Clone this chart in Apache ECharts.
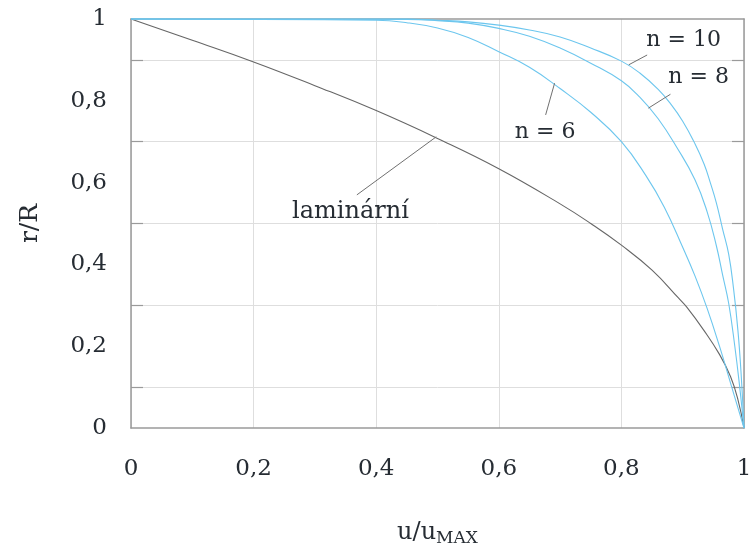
<!DOCTYPE html>
<html>
<head>
<meta charset="utf-8">
<script src="https://cdn.jsdelivr.net/npm/echarts@6/dist/echarts.min.js"></script>
<style>
html,body{margin:0;padding:0;background:#fff;}
#chart{width:752px;height:549px;}
</style>
</head>
<body>
<div id="chart"></div>
<script>
// ---- data (u/uMAX , r/R) ----
const xTicks = [0, 0.2, 0.4, 0.6, 0.8, 1];
const yTicks = [0, 0.2, 0.4, 0.6, 0.8, 1];
const yMinorTicks = [0.1, 0.3, 0.5, 0.7, 0.9];

const lamU = [0, 0.1, 0.2, 0.3, 0.4, 0.5, 0.6, 0.7, 0.75, 0.8, 0.85, 0.893, 0.907, 0.934, 0.96, 0.978, 0.99, 1];
const lamR = [1, 0.948, 0.895, 0.837, 0.776, 0.708, 0.634, 0.548, 0.5, 0.447, 0.386, 0.318, 0.295, 0.24, 0.18, 0.126, 0.07, 0];

const n6U = [0, 0.40, 0.45, 0.50, 0.55, 0.60, 0.65, 0.70, 0.75, 0.80, 0.84, 0.87, 0.90, 0.92, 0.94, 0.96, 0.98, 1];
const n6R = [1, 0.997, 0.991, 0.978, 0.955, 0.920, 0.882, 0.830, 0.772, 0.700, 0.617, 0.540, 0.442, 0.372, 0.292, 0.200, 0.100, 0];

const n8U = [0, 0.45, 0.50, 0.55, 0.60, 0.65, 0.70, 0.75, 0.80, 0.83, 0.86, 0.89, 0.92, 0.94, 0.955, 0.965, 0.975, 0.985, 0.993, 1];
const n8R = [1, 0.999, 0.996, 0.990, 0.977, 0.958, 0.929, 0.892, 0.849, 0.809, 0.756, 0.687, 0.607, 0.528, 0.445, 0.375, 0.305, 0.200, 0.100, 0];

const n10U = [0, 0.45, 0.50, 0.55, 0.60, 0.65, 0.70, 0.75, 0.80, 0.83, 0.86, 0.88, 0.90, 0.92, 0.935, 0.945, 0.955, 0.965, 0.975, 0.983, 0.99, 0.995, 1];
const n10R = [1, 1, 0.997, 0.993, 0.985, 0.973, 0.956, 0.929, 0.897, 0.868, 0.828, 0.793, 0.750, 0.695, 0.645, 0.600, 0.550, 0.487, 0.425, 0.340, 0.240, 0.140, 0];

const seriesNames = ['laminární', 'n = 6', 'n = 8', 'n = 10'];

// ---- annotation placement (data coordinates) ----
const notes = [
  { text: 'laminární', size: 24, at: [0.358, 0.528], from: [0.498, 0.712], to: [0.3685, 0.570] },
  { text: 'n = 6',     size: 22, at: [0.6755, 0.724], from: [0.691, 0.843], to: [0.6764, 0.7655] },
  { text: 'n = 8',     size: 22, at: [0.926, 0.858], from: [0.844, 0.782], to: [0.880, 0.816] },
  { text: 'n = 10',    size: 22, at: [0.9015, 0.9487], from: [0.812, 0.888], to: [0.842, 0.912] }
];

const zip = (a, b) => a.map((v, i) => [v, b[i]]);
const FONT = 'DejaVu Serif';
const TXT = '#262c33';
const AX = '#9a9a9a';
const fmt = v => String(+v.toFixed(1)).replace('.', ',');

const dataSets = [zip(lamU, lamR), zip(n6U, n6R), zip(n8U, n8R), zip(n10U, n10R)];
const colors = ['#666666', '#6cc6ee', '#6cc6ee', '#6cc6ee'];

const series = dataSets.map((d, i) => ({
  name: seriesNames[i],
  type: 'line',
  xAxisIndex: 0,
  yAxisIndex: 0,
  data: d,
  showSymbol: false,
  symbol: 'none',
  clip: false,
  smooth: 0.45,
  lineStyle: { color: colors[i], width: 1.1 },
  z: i === 0 ? 3 : 4,
  markLine: {
    silent: true,
    symbol: ['none', 'none'],
    label: { show: false },
    lineStyle: { color: '#707070', width: 1, type: 'solid' },
    data: [[{ coord: notes[i].from }, { coord: notes[i].to }]]
  },
  markPoint: {
    silent: true,
    symbol: 'circle',
    symbolSize: 0,
    label: {
      show: true, position: 'inside', formatter: notes[i].text,
      fontFamily: FONT, fontSize: notes[i].size, color: TXT
    },
    data: [{ coord: notes[i].at }]
  }
}));

const innerTicks = () => ({ show: true, inside: true, length: 12, customValues: yMinorTicks, lineStyle: { color: AX, width: 1.2 } });
const axLine = () => ({ show: true, onZero: false, lineStyle: { color: AX, width: 1.5 } });

const chart = echarts.init(document.getElementById('chart'), null, { renderer: 'canvas' });
chart.setOption({
  animation: false,
  backgroundColor: '#ffffff',
  grid: { left: 131, right: 8, top: 19, bottom: 121, containLabel: false, outerBoundsMode: 'none' },
  xAxis: [{
    type: 'value', position: 'bottom', min: xTicks[0], max: xTicks[xTicks.length - 1], interval: 0.2,
    name: 'u/u{sub|MAX}', nameLocation: 'middle', nameGap: 90,
    nameTextStyle: {
      fontFamily: FONT, fontSize: 24, color: TXT,
      rich: { sub: { fontFamily: FONT, fontSize: 17, color: TXT, padding: [12, 0, 0, 0] } }
    },
    axisLine: axLine(),
    axisTick: { show: false },
    axisLabel: { formatter: fmt, fontFamily: FONT, fontSize: 23, color: TXT, margin: 30 },
    splitLine: { show: true, lineStyle: { color: '#dedede', width: 1 } }
  }, {
    type: 'value', position: 'top', min: 0, max: 1, interval: 0.2,
    axisLine: axLine(),
    axisTick: { show: false }, axisLabel: { show: false }, splitLine: { show: false }
  }],
  yAxis: [{
    type: 'value', position: 'left', min: yTicks[0], max: yTicks[yTicks.length - 1], interval: 0.2,
    name: 'r/R', nameLocation: 'middle', nameGap: 88, nameRotate: 90,
    nameTextStyle: { fontFamily: FONT, fontSize: 25, color: TXT },
    axisLine: axLine(),
    axisTick: innerTicks(),
    axisLabel: { formatter: fmt, fontFamily: FONT, fontSize: 23, color: TXT, margin: 24 },
    splitLine: { show: true, lineStyle: { color: '#dedede', width: 1 } }
  }, {
    type: 'value', position: 'right', min: 0, max: 1, interval: 0.2,
    axisLine: axLine(),
    axisTick: innerTicks(),
    axisLabel: { show: false }, splitLine: { show: false }
  }],
  series: series
});
</script>
</body>
</html>
